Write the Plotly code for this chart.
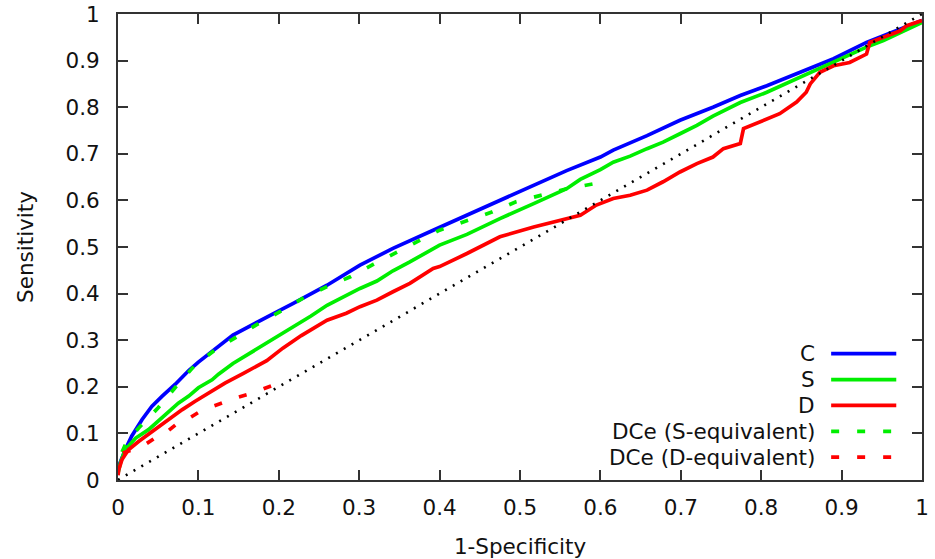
import plotly.graph_objects as go

# ---------------- data ----------------
c_x = [0, 0.001, 0.009, 0.017, 0.03, 0.042, 0.055, 0.071, 0.088, 0.1, 0.143, 0.177,
       0.2, 0.218, 0.26, 0.301, 0.342, 0.392, 0.434, 0.475, 0.517, 0.558, 0.6, 0.616,
       0.658, 0.699, 0.74, 0.774, 0.807, 0.848, 0.89, 0.931, 0.96, 1.0]
c_y = [0.02, 0.03, 0.065, 0.094, 0.13, 0.158, 0.18, 0.205, 0.235, 0.253, 0.311, 0.343,
       0.363, 0.379, 0.418, 0.461, 0.497, 0.536, 0.568, 0.600, 0.632, 0.664, 0.693, 0.708,
       0.739, 0.772, 0.8, 0.825, 0.846, 0.875, 0.904, 0.939, 0.958, 0.986]

s_x = [0, 0.003, 0.009, 0.022, 0.038, 0.05, 0.063, 0.075, 0.088, 0.1, 0.117, 0.125,
       0.143, 0.164, 0.177, 0.195, 0.218, 0.24, 0.26, 0.28, 0.301, 0.322, 0.342, 0.363,
       0.4, 0.434, 0.475, 0.517, 0.558, 0.575, 0.6, 0.616, 0.637, 0.658, 0.678, 0.699,
       0.72, 0.74, 0.757, 0.774, 0.807, 0.848, 0.89, 0.91, 0.931, 0.952, 0.973, 1.0]
s_y = [0.015, 0.037, 0.065, 0.09, 0.108, 0.126, 0.147, 0.165, 0.18, 0.198, 0.215, 0.227,
       0.25, 0.272, 0.287, 0.305, 0.329, 0.352, 0.375, 0.393, 0.411, 0.427, 0.449, 0.468,
       0.504, 0.527, 0.561, 0.593, 0.625, 0.645, 0.666, 0.682, 0.695, 0.711, 0.725, 0.743,
       0.761, 0.781, 0.796, 0.81, 0.832, 0.864, 0.896, 0.911, 0.929, 0.943, 0.961, 0.982]

d_x = [0, 0.001, 0.005, 0.013, 0.026, 0.038, 0.05, 0.063, 0.08, 0.096, 0.113, 0.133,
       0.156, 0.185, 0.205, 0.228, 0.26, 0.284, 0.301, 0.322, 0.342, 0.363, 0.392, 0.4,
       0.434, 0.475, 0.517, 0.558, 0.575, 0.595, 0.616, 0.637, 0.658, 0.678, 0.691, 0.699,
       0.72, 0.74, 0.753, 0.765, 0.774, 0.778, 0.799, 0.823, 0.844, 0.856, 0.861, 0.873,
       0.89, 0.91, 0.931, 0.935, 0.952, 0.973, 0.981, 1.0]
d_y = [0.01, 0.022, 0.044, 0.065, 0.083, 0.098, 0.115, 0.13, 0.151, 0.169, 0.187, 0.208,
       0.229, 0.256, 0.283, 0.31, 0.343, 0.358, 0.372, 0.386, 0.404, 0.422, 0.454, 0.458,
       0.486, 0.522, 0.543, 0.561, 0.568, 0.59, 0.604, 0.611, 0.622, 0.64, 0.654, 0.661,
       0.679, 0.693, 0.711, 0.718, 0.722, 0.754, 0.768, 0.786, 0.811, 0.832, 0.85, 0.875,
       0.889, 0.896, 0.914, 0.939, 0.950, 0.964, 0.975, 0.986]

dces_x = [0.005, 0.011, 0.026, 0.05, 0.072, 0.095, 0.119, 0.148, 0.172, 0.201, 0.23,
          0.26, 0.289, 0.318, 0.347, 0.376, 0.40, 0.434, 0.465, 0.495, 0.526, 0.558, 0.593]
dces_y = [0.06, 0.083, 0.112, 0.155, 0.2, 0.245, 0.277, 0.308, 0.333, 0.361, 0.39,
          0.415, 0.436, 0.463, 0.49, 0.515, 0.536, 0.557, 0.575, 0.597, 0.611, 0.625, 0.636]

dced_x = [0.006, 0.019, 0.03, 0.046, 0.057, 0.075, 0.086, 0.102, 0.113, 0.134, 0.146,
          0.166, 0.176, 0.193, 0.2]
dced_y = [0.058, 0.065, 0.072, 0.09, 0.098, 0.123, 0.13, 0.147, 0.155, 0.168, 0.176,
          0.186, 0.192, 0.203, 0.208]

diag_x = [0, 1]
diag_y = [0, 1]

x_ticks = [0, 0.1, 0.2, 0.3, 0.4, 0.5, 0.6, 0.7, 0.8, 0.9, 1]
y_ticks = [0, 0.1, 0.2, 0.3, 0.4, 0.5, 0.6, 0.7, 0.8, 0.9, 1]
tick_text = ["0", "0.1", "0.2", "0.3", "0.4", "0.5", "0.6", "0.7", "0.8", "0.9", "1"]

# ---------------- styling ----------------
FONT = "DejaVu Sans"
FS = 21.5
TXT = "#111111"
BLUE, GREEN, RED = "#0000ff", "#00ee00", "#ff0000"
DASH = "8px,18px"
LW = 3.7

series = [
    ("C", c_x, c_y, dict(color=BLUE, width=LW, dash="solid")),
    ("S", s_x, s_y, dict(color=GREEN, width=LW, dash="solid")),
    ("D", d_x, d_y, dict(color=RED, width=LW, dash="solid")),
    ("DCe (S-equivalent)", dces_x, dces_y, dict(color=GREEN, width=LW, dash=DASH)),
    ("DCe (D-equivalent)", dced_x, dced_y, dict(color=RED, width=LW, dash=DASH)),
]

fig = go.Figure()
for name, xs, ys, line in series:
    fig.add_trace(go.Scatter(x=xs, y=ys, mode="lines", name=name, line=line,
                             showlegend=False))
fig.add_trace(go.Scatter(x=diag_x, y=diag_y, mode="lines", name="chance",
                         line=dict(color="black", width=2.6, dash="2px,7px"),
                         showlegend=False))

# custom legend (text right-aligned, sample line to the right, like the reference)
annotations = []
shapes = []
row_y0, row_step = 0.271, 0.0555
for i, (name, _, _, line) in enumerate(series):
    yy = row_y0 - i * row_step
    annotations.append(dict(xref="paper", yref="paper", x=0.869, y=yy, text=name,
                            showarrow=False, xanchor="right", yanchor="middle",
                            font=dict(family=FONT, size=FS, color=TXT)))
    shapes.append(dict(type="line", xref="paper", yref="paper", x0=0.887, x1=0.968,
                       y0=yy, y1=yy, line=dict(color=line["color"], width=LW,
                                               dash=line["dash"])))

axis_common = dict(
    range=[0, 1], showgrid=False, zeroline=False, showline=True, mirror="allticks",
    linecolor="#333333", linewidth=2, ticks="inside", ticklen=10, tickwidth=2,
    tickcolor="#333333", tickfont=dict(family=FONT, size=FS, color=TXT),
    ticklabeloverflow="allow",
)

fig.update_layout(
    width=935, height=559,
    margin=dict(l=118, r=13, t=14, b=78.5, autoexpand=False),
    paper_bgcolor="white", plot_bgcolor="white",
    font=dict(family=FONT, size=FS, color=TXT),
    hovermode=False,
    xaxis=dict(**axis_common, tickvals=x_ticks, ticktext=tick_text,
               ticklabelstandoff=7,
               title=dict(text="1-Specificity", standoff=20,
                          font=dict(family=FONT, size=FS, color=TXT))),
    yaxis=dict(**axis_common, tickvals=y_ticks, ticktext=tick_text,
               ticklabelstandoff=12,
               title=dict(text="Sensitivity", standoff=26,
                          font=dict(family=FONT, size=FS, color=TXT))),
    annotations=annotations,
    shapes=shapes,
)

# remove the default 8px page margin so the figure fills the window exactly
fig.write_html("out.html",
               config={"displayModeBar": False, "staticPlot": True},
               post_script="document.body.style.margin='0';document.body.style.overflow='hidden';")
